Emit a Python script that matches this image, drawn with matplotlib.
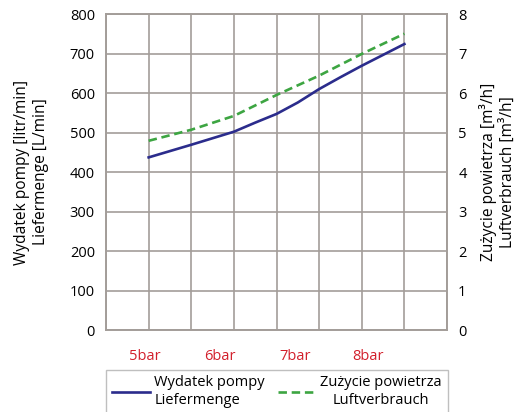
import matplotlib
matplotlib.use("Agg")
import matplotlib.pyplot as plt

plt.rcParams['font.family'] = ['Open Sans', 'DejaVu Sans']

# pump output (L/min)
flow_x = [1, 2, 3, 3.5, 4, 4.5, 5, 5.5, 6, 7]
flow = [437, 469, 502, 525, 547, 576, 610, 640, 669, 724]
# air consumption (m3/h)
air_x = [1, 2, 3, 4, 5, 6, 7]
air = [4.79, 5.07, 5.42, 5.95, 6.44, 6.99, 7.50]

pressure_labels = ['5bar', '6bar', '7bar', '8bar']
label_pos = [0.9, 2.68, 4.44, 6.15]

grid_col = '#a39d99'

fig = plt.figure(figsize=(5.21, 4.12), dpi=100)
ax = fig.add_axes([0.2035, 0.199, 0.6545, 0.767])
ax2 = ax.twinx()

l1, = ax.plot(flow_x, flow, color='#2b2c8c', lw=1.9, label='Wydatek pompy\nLiefermenge')
l2, = ax2.plot(air_x, air, color='#3da542', lw=1.9, ls=(0, (3.2, 1.8)),
               label='Zużycie powietrza\nLuftverbrauch')

ax.set_xlim(0, 8)
ax.set_ylim(0, 800)
ax2.set_ylim(0, 8)
ax.set_yticks(range(0, 801, 100))
ax2.set_yticks(range(0, 9))
ax.set_xticks(range(0, 9))
ax.set_xticklabels([])
ax.grid(True, color=grid_col, lw=1.2)
ax.set_axisbelow(True)
ax.tick_params(length=0, labelsize=10.5, pad=8)
ax2.tick_params(length=0, labelsize=10.5, pad=8)
for a in (ax, ax2):
    for s in a.spines.values():
        s.set_color(grid_col)
        s.set_linewidth(1.2)

for p, t in zip(label_pos, pressure_labels):
    ax.text(p, -0.085, t, transform=ax.get_xaxis_transform(), color='#d21f2b',
            fontsize=10.5, ha='center', va='center')

ax.set_ylabel('Wydatek pompy [litr/min]\nLiefermenge [L/min]', fontsize=11.2,
              labelpad=15, linespacing=1.25)
ax2.set_ylabel('Zużycie powietrza [m³/h]\nLuftverbrauch [m³/h]', fontsize=11.2,
               rotation=90, labelpad=9, linespacing=1.25)

leg = ax.legend(handles=[l1, l2], ncol=2, loc='upper left', bbox_to_anchor=(0.0, -0.125),
                fontsize=10.5, frameon=True, fancybox=False, edgecolor='#b0b0b0',
                handlelength=2.6, handletextpad=0.3, columnspacing=0.9,
                borderaxespad=0, borderpad=0.4)
leg.get_frame().set_linewidth(1.0)
leg.get_texts()[1].set_multialignment('center')

fig.savefig('out.png', dpi=100)
